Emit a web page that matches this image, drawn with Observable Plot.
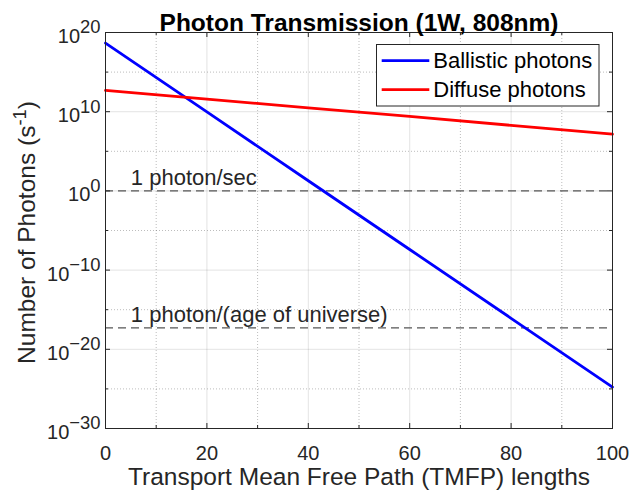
<!DOCTYPE html>
<html>
<head>
<meta charset="utf-8">
<script src="https://cdn.jsdelivr.net/npm/d3@7"></script>
<script src="https://cdn.jsdelivr.net/npm/@observablehq/plot@0.6"></script>
<style>
  body { margin: 0; background: #fff; }
  #wrap { position: relative; width: 631px; height: 499px; font-family: "Liberation Sans", Arial, sans-serif; }
  #legend { position: absolute; left: 376px; top: 44px; }
</style>
</head>
<body>
<div id="wrap"></div>
<script>
// ---- data ----
const title = "Photon Transmission (1W, 808nm)";
const xLabel = "Transport Mean Free Path (TMFP) lengths";
const yLabel = "Number of Photons (s^{-1})";
const tmfp = [0, 20, 40, 60, 80, 100];
const ballistic = [4.6e18, 9.4e9, 1.9e1, 4.0e-8, 8.2e-17, 1.7e-25];
const diffuse = [4.9e12, 3.9e11, 3.1e10, 2.5e9, 1.9e8, 1.5e7];
const seriesNames = ["Ballistic photons", "Diffuse photons"];
const seriesColors = ["#0000ff", "#ff0000"];
const refValues = [1, 5e-18];
const refLabels = ["1 photon/sec", "1 photon/(age of universe)"];
const xTicks = [0, 20, 40, 60, 80, 100];
const xMinorTicks = [10, 30, 50, 70, 90];
const yTicks = [1e-30, 1e-20, 1e-10, 1e0, 1e10, 1e20];
const yMinorTicks = [1e-25, 1e-15, 1e-5, 1e5, 1e15];

// ---- tables built from the arrays ----
const rows = [
  ...tmfp.map((x, i) => ({x, y: ballistic[i], series: seriesNames[0]})),
  ...tmfp.map((x, i) => ({x, y: diffuse[i], series: seriesNames[1]}))
];
const refRows = refValues.map((v, i) => ({value: v, label: refLabels[i]}));

const W = 631, H = 499, mL = 105, mR = 19, mT = 32, mB = 71;
const pw = W - mL - mR, ph = H - mT - mB;
const ink = "#262626";

const expFormat = d => {
  const e = Math.round(Math.log10(d));
  return "10^{" + (e < 0 ? "\u2212" + Math.abs(e) : e) + "}";
};

const chart = Plot.plot({
  width: W, height: H,
  marginLeft: mL, marginRight: mR, marginTop: mT, marginBottom: mB,
  style: {fontFamily: "'Liberation Sans', Arial, sans-serif", fontSize: "20px", color: ink, background: "#fff", overflow: "visible"},
  x: {domain: [0, 100]},
  y: {type: "log", domain: [1e-30, 1e20]},
  color: {domain: seriesNames, range: seriesColors},
  marks: [
    Plot.gridX(xMinorTicks, {stroke: ink, strokeOpacity: 0.3, strokeDasharray: "1,2"}),
    Plot.gridY(yMinorTicks, {stroke: ink, strokeOpacity: 0.3, strokeDasharray: "1,2"}),
    Plot.gridX(xTicks, {stroke: ink, strokeOpacity: 0.13}),
    Plot.gridY(yTicks, {stroke: ink, strokeOpacity: 0.13}),
    Plot.ruleY(refRows, {y: "value", stroke: "#555", strokeWidth: 1.3, strokeDasharray: "8,5"}),
    Plot.text(refRows, {x: 5, y: "value", text: "label", textAnchor: "start", lineAnchor: "bottom", dy: -6, fontSize: 22, fill: ink}),
    Plot.line(rows, {x: "x", y: "y", z: "series", stroke: "series", strokeWidth: 2.8}),
    // inward ticks
    Plot.ruleX(xTicks, {stroke: ink, insetTop: ph - 5}),
    Plot.ruleX(xTicks, {stroke: ink, insetBottom: ph - 5}),
    Plot.ruleX(xMinorTicks, {stroke: ink, insetTop: ph - 3}),
    Plot.ruleX(xMinorTicks, {stroke: ink, insetBottom: ph - 3}),
    Plot.ruleY(yTicks, {stroke: ink, insetRight: pw - 5}),
    Plot.ruleY(yTicks, {stroke: ink, insetLeft: pw - 5}),
    Plot.ruleY(yMinorTicks, {stroke: ink, insetRight: pw - 3}),
    Plot.ruleY(yMinorTicks, {stroke: ink, insetLeft: pw - 3}),
    Plot.frame({stroke: ink}),
    Plot.axisX({ticks: xTicks, tickSize: 0, tickPadding: 17, fontSize: 20, label: null}),
    Plot.axisY({ticks: yTicks, tickSize: 0, tickPadding: 5, fontSize: 20, dy: 4, tickFormat: expFormat, label: null}),
    Plot.text([title], {frameAnchor: "top", dy: -18.5, fontSize: 24.5, fontWeight: "bold", fill: "#000"}),
    Plot.text([xLabel], {frameAnchor: "bottom", dy: 56, fontSize: 24.5, fill: ink}),
    Plot.text([yLabel], {frameAnchor: "left", textAnchor: "middle", rotate: -90, dx: -78, dy: 2, fontSize: 24.5, fill: ink})
  ]
});

// superscripts: turn "a^{b}c" into tspans
const NS = "http://www.w3.org/2000/svg";
d3.select(chart).selectAll("text").each(function() {
  const s = this.textContent;
  if (!s.includes("^{")) return;
  const fs = parseFloat(getComputedStyle(this).fontSize) || 20;
  const supFs = fs * 0.92, rise = fs * 0.48;
  const parts = s.split(/\^\{([^}]*)\}/);
  this.textContent = "";
  let raised = false;
  parts.forEach((p, i) => {
    if (!p) return;
    const t = document.createElementNS(NS, "tspan");
    t.textContent = p;
    if (i % 2 === 1) {
      t.setAttribute("font-size", supFs);
      if (!raised) { t.setAttribute("dy", -rise); raised = true; }
    } else if (raised) {
      t.setAttribute("dy", rise); raised = false;
    }
    this.appendChild(t);
  });
});

const wrap = document.getElementById("wrap");
wrap.appendChild(chart);

// legend overlay
const lg = d3.select(wrap).append("div").attr("id", "legend")
  .append("svg").attr("width", 224).attr("height", 63);
lg.append("rect").attr("x", 0.5).attr("y", 0.5).attr("width", 222.5).attr("height", 61.5)
  .attr("fill", "#fff").attr("stroke", ink);
seriesNames.forEach((name, i) => {
  const cy = 16.7 + i * 29;
  lg.append("line").attr("x1", 5.7).attr("x2", 53.3).attr("y1", cy).attr("y2", cy)
    .attr("stroke", seriesColors[i]).attr("stroke-width", 2.8);
  lg.append("text").attr("x", 57.3).attr("y", cy + 7.6).text(name)
    .attr("font-family", "'Liberation Sans', Arial, sans-serif").attr("font-size", 22).attr("fill", "#000");
});
</script>
</body>
</html>
